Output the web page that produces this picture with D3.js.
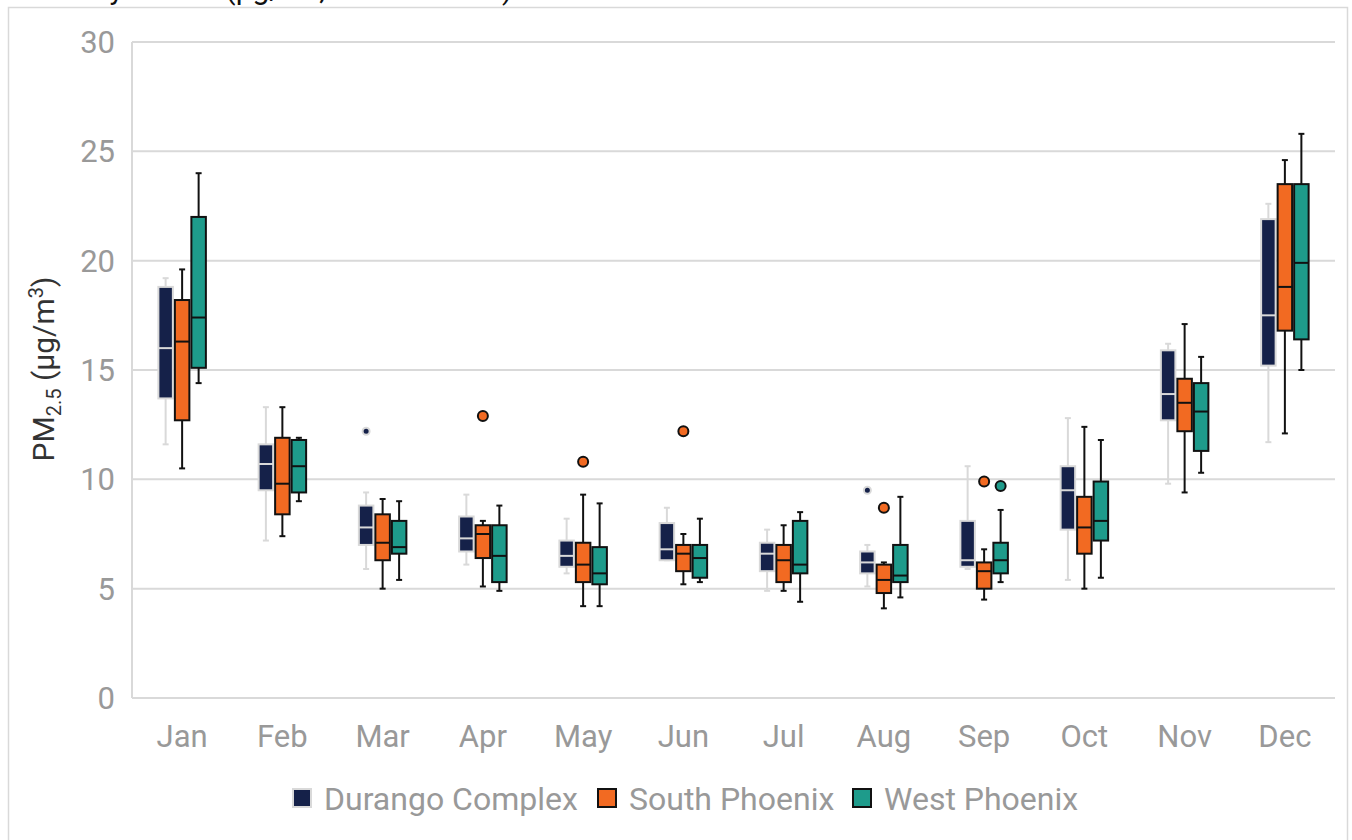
<!DOCTYPE html>
<html>
<head>
<meta charset="utf-8">
<script src="https://cdn.jsdelivr.net/npm/d3@7"></script>
<style>
  body { margin: 0; background: #fff; }
  svg { display: block; font-family: Roboto, "Noto Sans", sans-serif; }
</style>
</head>
<body>
<script>
// months on the x axis
var months = ["Jan", "Feb", "Mar", "Apr", "May", "Jun", "Jul", "Aug", "Sep", "Oct", "Nov", "Dec"];
var sites = ["Durango Complex", "South Phoenix", "West Phoenix"];
var yTicks = [0, 5, 10, 15, 20, 25, 30];

// [low whisker, q1, median, q3, high whisker] per month
var durangoStats = [
  [11.6, 13.7, 16.0, 18.8, 19.2],
  [7.2, 9.5, 10.7, 11.6, 13.3],
  [5.9, 7.0, 7.8, 8.8, 9.4],
  [6.1, 6.7, 7.3, 8.3, 9.3],
  [5.7, 6.0, 6.5, 7.2, 8.2],
  [6.3, 6.3, 6.8, 8.0, 8.7],
  [4.9, 5.8, 6.6, 7.1, 7.7],
  [5.1, 5.7, 6.2, 6.7, 7.0],
  [5.9, 6.0, 6.3, 8.1, 10.6],
  [5.4, 7.7, 9.5, 10.6, 12.8],
  [9.8, 12.7, 13.9, 15.9, 16.2],
  [11.7, 15.2, 17.5, 21.9, 22.6]
];
var southStats = [
  [10.5, 12.7, 16.3, 18.2, 19.6],
  [7.4, 8.4, 9.8, 11.9, 13.3],
  [5.0, 6.3, 7.1, 8.4, 9.1],
  [5.1, 6.4, 7.5, 7.9, 8.1],
  [4.2, 5.3, 6.1, 7.1, 9.3],
  [5.2, 5.8, 6.6, 7.0, 7.5],
  [4.9, 5.3, 6.3, 7.0, 7.9],
  [4.1, 4.8, 5.4, 6.1, 6.2],
  [4.5, 5.0, 5.8, 6.2, 6.8],
  [5.0, 6.6, 7.8, 9.2, 12.4],
  [9.4, 12.2, 13.5, 14.6, 17.1],
  [12.1, 16.8, 18.8, 23.5, 24.6]
];
var westStats = [
  [14.4, 15.1, 17.4, 22.0, 24.0],
  [9.0, 9.4, 10.6, 11.8, 11.9],
  [5.4, 6.6, 6.9, 8.1, 9.0],
  [4.9, 5.3, 6.5, 7.9, 8.8],
  [4.2, 5.2, 5.7, 6.9, 8.9],
  [5.3, 5.5, 6.4, 7.0, 8.2],
  [4.4, 5.7, 6.1, 8.1, 8.5],
  [4.6, 5.3, 5.6, 7.0, 9.2],
  [5.3, 5.7, 6.3, 7.1, 8.6],
  [5.5, 7.2, 8.1, 9.9, 11.8],
  [10.3, 11.3, 13.1, 14.4, 15.6],
  [15.0, 16.4, 19.9, 23.5, 25.8]
];

// outliers: [month, value]
var durangoOutliers = [["Mar", 12.2], ["Aug", 9.5]];
var southOutliers = [["Apr", 12.9], ["May", 10.8], ["Jun", 12.2], ["Aug", 8.7], ["Sep", 9.9]];
var westOutliers = [["Sep", 9.7]];

var fills = ["#152149", "#f26a22", "#1e9b8b"];
var strokes = ["#d9d9d9", "#111111", "#111111"];
var medianColors = ["#d9d9d9", "#111111", "#111111"];

var svg = d3.select("body").append("svg")
    .attr("width", 1352)
    .attr("height", 840);

// outer chart border
svg.append("rect")
    .attr("x", 8.5).attr("y", 7.5)
    .attr("width", 1339).attr("height", 860)
    .attr("fill", "none")
    .attr("stroke", "#d9d9d9")
    .attr("stroke-width", 1.5);

// title, mostly above the visible area
svg.append("text")
    .attr("x", 16).attr("y", -1)
    .attr("font-size", 30)
    .attr("fill", "#111")
    .text("Monthly PM2.5 (µg/m³, 2019 – 2023)");

var x0 = d3.scaleBand().domain(months).range([132, 1335]);
var x1 = d3.scaleBand().domain(sites).range([0, 49.5]);
var y = d3.scaleLinear().domain([0, 30]).range([698, 42]);

// grid
svg.append("g").selectAll("line")
  .data(yTicks)
  .enter().append("line")
    .attr("x1", 132).attr("x2", 1335)
    .attr("y1", function(d) { return y(d); })
    .attr("y2", function(d) { return y(d); })
    .attr("stroke", "#d9d9d9")
    .attr("stroke-width", 2);

svg.append("line")
    .attr("x1", 132).attr("x2", 132)
    .attr("y1", y(30)).attr("y2", y(0))
    .attr("stroke", "#d9d9d9")
    .attr("stroke-width", 2);

// y tick labels
svg.append("g").selectAll("text")
  .data(yTicks)
  .enter().append("text")
    .attr("x", 115)
    .attr("y", function(d) { return y(d); })
    .attr("dy", "0.36em")
    .attr("text-anchor", "end")
    .attr("font-size", 31)
    .attr("fill", "#999")
    .text(function(d) { return d; });

// x labels
svg.append("g").selectAll("text")
  .data(months)
  .enter().append("text")
    .attr("x", function(d) { return x0(d) + x0.bandwidth() / 2; })
    .attr("y", 747)
    .attr("text-anchor", "middle")
    .attr("font-size", 31)
    .attr("fill", "#999")
    .text(function(d) { return d; });

// y axis label
var ylab = svg.append("text")
    .attr("transform", "translate(54,369) rotate(-90)")
    .attr("text-anchor", "middle")
    .attr("font-size", 30)
    .attr("fill", "#333");
ylab.append("tspan").text("PM");
ylab.append("tspan").attr("font-size", 20).attr("dy", 7).text("2.5");
ylab.append("tspan").attr("dy", -7).text(" (µg/m");
ylab.append("tspan").attr("font-size", 20).attr("dy", -11).text("3");
ylab.append("tspan").attr("dy", 11).text(")");

var allStats = [durangoStats, southStats, westStats];
var allOutliers = [durangoOutliers, southOutliers, westOutliers];

sites.forEach(function(site, i) {
  var rows = allStats[i].map(function(s, m) {
    return {month: months[m], lo: s[0], q1: s[1], med: s[2], q3: s[3], hi: s[4]};
  });
  var bw = x1.bandwidth() - 2;
  function cx(d) { return x0(d.month) + x0.bandwidth() / 2 - 24.75 + x1(site) + x1.bandwidth() / 2; }

  var g = svg.append("g").attr("class", "site-" + i);
  var box = g.selectAll("g").data(rows).enter().append("g");

  // whiskers
  box.append("line")
      .attr("x1", cx).attr("x2", cx)
      .attr("y1", function(d) { return y(d.hi); })
      .attr("y2", function(d) { return y(d.q3); })
      .attr("stroke", strokes[i]).attr("stroke-width", 2);
  box.append("line")
      .attr("x1", cx).attr("x2", cx)
      .attr("y1", function(d) { return y(d.q1); })
      .attr("y2", function(d) { return y(d.lo); })
      .attr("stroke", strokes[i]).attr("stroke-width", 2);
  ["hi", "lo"].forEach(function(k) {
    box.append("line")
        .attr("x1", function(d) { return cx(d) - 3; })
        .attr("x2", function(d) { return cx(d) + 3; })
        .attr("y1", function(d) { return y(d[k]); })
        .attr("y2", function(d) { return y(d[k]); })
        .attr("stroke", strokes[i]).attr("stroke-width", 2);
  });

  box.append("rect")
      .attr("x", function(d) { return cx(d) - bw / 2; })
      .attr("y", function(d) { return y(d.q3); })
      .attr("width", bw)
      .attr("height", function(d) { return y(d.q1) - y(d.q3); })
      .attr("fill", fills[i])
      .attr("stroke", strokes[i])
      .attr("stroke-width", 2);

  box.append("line")
      .attr("x1", function(d) { return cx(d) - bw / 2; })
      .attr("x2", function(d) { return cx(d) + bw / 2; })
      .attr("y1", function(d) { return y(d.med); })
      .attr("y2", function(d) { return y(d.med); })
      .attr("stroke", medianColors[i])
      .attr("stroke-width", 2);

  g.selectAll("circle")
    .data(allOutliers[i])
    .enter().append("circle")
      .attr("cx", function(d) { return cx({month: d[0]}); })
      .attr("cy", function(d) { return y(d[1]); })
      .attr("r", i === 0 ? 3.5 : 5)
      .attr("fill", fills[i])
      .attr("stroke", strokes[i])
      .attr("stroke-width", 2);
});

// legend
var legendX = [292, 597, 852];
var legend = svg.append("g").selectAll("g")
  .data(sites)
  .enter().append("g")
    .attr("transform", function(d, i) { return "translate(" + legendX[i] + ",788)"; });

legend.append("rect")
    .attr("x", 1).attr("y", 1)
    .attr("width", 18).attr("height", 18)
    .attr("fill", function(d, i) { return fills[i]; })
    .attr("stroke", function(d, i) { return strokes[i]; })
    .attr("stroke-width", 2);

legend.append("text")
    .attr("x", 32).attr("y", 10)
    .attr("dy", "0.36em")
    .attr("font-size", 32)
    .attr("fill", "#999")
    .text(function(d) { return d; });
</script>
</body>
</html>
